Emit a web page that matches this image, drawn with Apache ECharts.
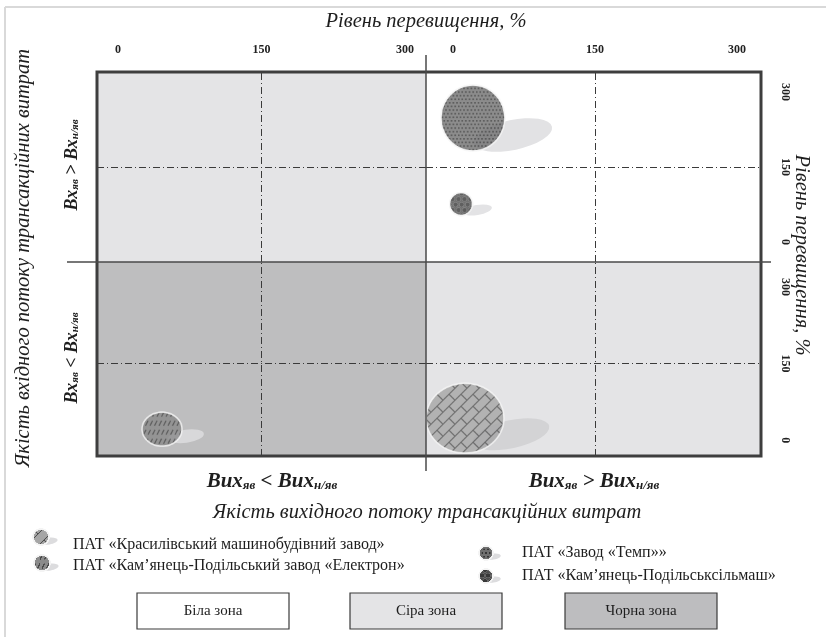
<!DOCTYPE html>
<html><head><meta charset="utf-8">
<script src="https://cdn.jsdelivr.net/npm/echarts@6/dist/echarts.min.js"></script>
<style>html,body{margin:0;padding:0;background:#fff}#c{width:826px;height:637px}</style>
</head><body><div id="c"></div>
<script>
// ---------- data ----------
const tickValues = [0, 150, 300];
const companies = [
  'ПАТ «Красилівський машинобудівний завод»',
  'ПАТ «Кам’янець-Подільський завод «Електрон»',
  'ПАТ «Завод «Темп»»',
  'ПАТ «Кам’янець-Подільськсільмаш»'
];
const outputLevel = [12.7, 46, 21, 8.5];     // Рівень перевищення (вихідний потік), %
const inputLevel  = [43, 21.5, 248, 76];      // Рівень перевищення (вхідний потік), %
const quadrantOf  = [3, 2, 1, 1];             // 0 TL, 1 TR, 2 BL, 3 BR
const bubbleW     = [80, 42, 66, 25];
const bubbleH     = [72, 36, 68, 25];
const zoneNames   = ['Біла зона', 'Сіра зона', 'Чорна зона'];
const topTitle    = 'Рівень перевищення, %';
const rightTitle  = 'Рівень перевищення, %';
const leftTitle   = 'Якість вхідного потоку трансакційних витрат';
const bottomTitle = 'Якість вихідного потоку трансакційних витрат';

// ---------- styles ----------
const FONT = "'Liberation Serif', 'Times New Roman', serif";
const patternKind = ['bricks', 'dashes', 'dots', 'circles'];
const shadowStyle = [
  {off: [46, 16], size: [78, 28], rot: 12, color: '#d3d3d5'},
  {off: [24, 7],  size: [36, 13], rot: 8,  color: '#d8d8da'},
  {off: [40, 17], size: [80, 30], rot: 12, color: '#e2e2e4'},
  {off: [16, 6],  size: [30, 10], rot: 10, color: '#e3e3e5'}
];

function paint(ctx, kind, w, h) {
  if (kind === 'bricks') {
    ctx.fillStyle = '#a6a6a6'; ctx.fillRect(0, 0, w, h);
    ctx.strokeStyle = '#4e4e4e'; ctx.lineWidth = 1.1;
    const S = 12;
    for (let c = -240; c < w + h + 240; c += S) {
      ctx.beginPath(); ctx.moveTo(-20, c + 20); ctx.lineTo(w + 20, c - w - 20); ctx.stroke();
      const row = Math.round(c / S);
      const off = (Math.abs(row) % 2) ? 12 : 0;
      for (let d = -240 + off; d < 240; d += 24) {
        const x1 = (c + d) / 2, y1 = (c - d) / 2;
        ctx.beginPath(); ctx.moveTo(x1, y1); ctx.lineTo(x1 + S / 2, y1 + S / 2); ctx.stroke();
      }
    }
  } else if (kind === 'dashes') {
    ctx.fillStyle = '#8a8a8a'; ctx.fillRect(0, 0, w, h);
    ctx.strokeStyle = '#474747'; ctx.lineWidth = 1.2;
    let r = 0;
    for (let y = 3; y < h + 6; y += 9, r++) {
      for (let x = (r % 2) * 2 - 2; x < w + 4; x += 4.5) {
        ctx.beginPath(); ctx.moveTo(x, y + 2.5); ctx.lineTo(x + 2.5, y - 2.5); ctx.stroke();
      }
    }
  } else if (kind === 'dots') {
    ctx.fillStyle = '#707070'; ctx.fillRect(0, 0, w, h);
    ctx.fillStyle = '#363636';
    let r = 0;
    for (let y = 0; y < h + 4; y += 3.6, r++) {
      for (let x = (r % 2) * 1.8; x < w + 4; x += 3.6) ctx.fillRect(x, y, 1.7, 1.7);
    }
  } else {
    ctx.fillStyle = '#4e4e4e'; ctx.fillRect(0, 0, w, h);
    let r = 0;
    for (let y = 2; y < h + 6; y += 5.5, r++) {
      for (let x = (r % 2) * 3 + 1; x < w + 6; x += 6) {
        ctx.beginPath(); ctx.arc(x, y, 2.4, 0, Math.PI * 2);
        ctx.fillStyle = '#383838'; ctx.fill();
        ctx.strokeStyle = '#6a6a6a'; ctx.lineWidth = 0.7; ctx.stroke();
      }
    }
  }
}
function bubbleCanvas(kind, w, h) {
  const k = 3;
  const c = document.createElement('canvas');
  c.width = Math.ceil(w * k); c.height = Math.ceil(h * k);
  const ctx = c.getContext('2d'); ctx.scale(k, k);
  ctx.save(); ctx.beginPath(); ctx.ellipse(w / 2, h / 2, w / 2 - 1, h / 2 - 1, 0, 0, Math.PI * 2); ctx.clip();
  paint(ctx, kind, w, h); ctx.restore();
  ctx.beginPath(); ctx.ellipse(w / 2, h / 2, w / 2 - 1, h / 2 - 1, 0, 0, Math.PI * 2);
  ctx.strokeStyle = '#f4f4f4'; ctx.lineWidth = 1.6; ctx.stroke();
  return c;
}

// ---------- grids / axes ----------
const gridBox = [
  {left: 97,  top: 72,  width: 329, height: 190, bg: '#e4e4e6'},
  {left: 426, top: 72,  width: 335, height: 190, bg: '#ffffff'},
  {left: 97,  top: 262, width: 329, height: 194, bg: '#bebebf'},
  {left: 426, top: 262, width: 335, height: 194, bg: '#e4e4e6'}
];
const xRange = [[-22, 322], [-28.5, 325.4], [-22, 322], [-28.5, 325.4]];
const yRange = [[-40, 340], [-40, 340], [-31, 349], [-31, 349]];

const grid = gridBox.map(g => ({left: g.left, top: g.top, width: g.width, height: g.height,
  show: true, backgroundColor: g.bg, borderWidth: 0}));
const labelStyle = {fontFamily: FONT, fontWeight: 'bold', fontSize: 12, color: '#222'};
const xAxis = xRange.map((r, i) => ({
  type: 'value', gridIndex: i, min: r[0], max: r[1], position: 'top', show: i < 2,
  axisLine: {show: false}, axisTick: {show: false}, splitLine: {show: false},
  axisLabel: Object.assign({customValues: tickValues, margin: 16}, labelStyle)
}));
const yAxis = yRange.map((r, i) => ({
  type: 'value', gridIndex: i, min: r[0], max: r[1], position: 'right', show: i % 2 === 1,
  axisLine: {show: false}, axisTick: {show: false}, splitLine: {show: false},
  axisLabel: Object.assign({customValues: tickValues, margin: 18, rotate: -90}, labelStyle)
}));

// ---------- series ----------
const series = [];
for (let g = 0; g < 4; g++) {
  series.push({type: 'scatter', xAxisIndex: g, yAxisIndex: g, data: [], silent: true, z: 1,
    markLine: {silent: true, symbol: ['none', 'none'], label: {show: false}, animation: false,
      lineStyle: {color: '#3a3a3a', width: 1, type: [7, 3, 1, 3]},
      emphasis: {disabled: true},
      data: [{xAxis: 150}, {yAxis: 150}]}});
}
companies.forEach((name, i) => {
  const q = quadrantOf[i], sh = shadowStyle[i];
  series.push({type: 'scatter', name: name + ' shadow', xAxisIndex: q, yAxisIndex: q, clip: false, silent: true, z: 2,
    symbol: 'circle', symbolSize: sh.size, symbolRotate: sh.rot, symbolOffset: sh.off,
    itemStyle: {color: sh.color, opacity: 1},
    data: [[outputLevel[i], inputLevel[i]]]});
  const img = bubbleCanvas(patternKind[i], bubbleW[i], bubbleH[i]).toDataURL();
  series.push({type: 'scatter', name: name, xAxisIndex: q, yAxisIndex: q, clip: false, silent: true, z: 3,
    symbol: 'image://' + img, symbolSize: [bubbleW[i], bubbleH[i]],
    data: [[outputLevel[i], inputLevel[i]]]});
});

// ---------- graphic (frame, titles, legend) ----------
function txt(x, y, text, opt) {
  return Object.assign({type: 'text', x: x, y: y, z: 80, rotation: opt.rotation || 0,
    style: Object.assign({text: text, x: 0, y: 0, align: 'center', verticalAlign: 'middle',
      textAlign: 'center', textVerticalAlign: 'middle', fill: '#1e1e1e', fontFamily: FONT,
      fontSize: opt.size || 16, fontStyle: opt.italic ? 'italic' : 'normal',
      fontWeight: opt.bold ? 'bold' : 'normal'}, opt.style || {})});
}
function richDef(big, small) {
  return {
    b: {fontFamily: FONT, fontSize: big, fontWeight: 'bold', fontStyle: 'italic', fill: '#1e1e1e', lineHeight: big + 4, verticalAlign: 'bottom'},
    s: {fontFamily: FONT, fontSize: small, fontWeight: 'bold', fontStyle: 'italic', fill: '#1e1e1e', lineHeight: small + 3, verticalAlign: 'bottom'}
  };
}
function subLabel(x, y, base, op, rotation, big, small) {
  return {type: 'text', x: x, y: y, z: 80, rotation: rotation || 0,
    style: {text: '{b|' + base + '}{s|яв}{b| ' + op + ' ' + base + '}{s|н/яв}', x: 0, y: 0,
      align: 'center', verticalAlign: 'middle', rich: richDef(big, small)}};
}
const line = (x1, y1, x2, y2, color, w) => ({type: 'line', z: 60, silent: true,
  shape: {x1, y1, x2, y2}, style: {stroke: color, lineWidth: w}});

const graphic = [
  line(5, 7, 826, 7, '#d9d9d9', 2),
  line(5, 7, 5, 637, '#d9d9d9', 2),
  {type: 'rect', z: 60, silent: true, shape: {x: 97, y: 72, width: 664, height: 384},
    style: {fill: 'none', stroke: '#3e3e3e', lineWidth: 3}},
  line(426, 55, 426, 471, '#4a4a4a', 1.5),
  line(67, 262, 771, 262, '#4a4a4a', 1.5),
  txt(426, 22, topTitle, {size: 20.5, italic: true}),
  txt(24, 258, leftTitle, {size: 20.5, italic: true, rotation: Math.PI / 2}),
  txt(801, 255, rightTitle, {size: 20.5, italic: true, rotation: -Math.PI / 2}),
  txt(427, 513, bottomTitle, {size: 20.5, italic: true}),
  subLabel(70, 165, 'Вх', '>', Math.PI / 2, 18, 11),
  subLabel(70, 358, 'Вх', '<', Math.PI / 2, 18, 11),
  subLabel(272, 480, 'Вих', '<', 0, 21, 13),
  subLabel(594, 480, 'Вих', '>', 0, 21, 13)
];
// legend
const legendPos = [
  {ix: 41, iy: 537, r: 9, tx: 73, ty: 545},
  {ix: 42, iy: 563, r: 9, tx: 73, ty: 566},
  {ix: 486, iy: 553, r: 8, tx: 522, ty: 553},
  {ix: 486, iy: 576, r: 8, tx: 522, ty: 576}
];
companies.forEach((name, i) => {
  const p = legendPos[i];
  graphic.push({type: 'ellipse', z: 55, silent: true, x: p.ix + p.r * 0.9, y: p.iy + p.r * 0.45, rotation: 0.15,
    shape: {cx: 0, cy: 0, rx: p.r * 0.95, ry: p.r * 0.38}, style: {fill: '#dcdcde'}});
  graphic.push({type: 'image', z: 56, silent: true,
    style: {image: bubbleCanvas(patternKind[i], p.r * 2, p.r * 2), x: p.ix - p.r, y: p.iy - p.r, width: p.r * 2, height: p.r * 2}});
  graphic.push(txt(p.tx, p.ty, name, {size: 16, style: {align: 'left', textAlign: 'left'}}));
});
const zoneFill = ['#ffffff', '#e4e4e6', '#bdbdbf'];
const zoneX = [137, 350, 565];
zoneNames.forEach((z, i) => {
  graphic.push({type: 'rect', z: 55, silent: true, shape: {x: zoneX[i], y: 593, width: 152, height: 36},
    style: {fill: zoneFill[i], stroke: '#3a3a3a', lineWidth: 1.2}});
  graphic.push(txt(zoneX[i] + 76, 611, z, {size: 15}));
});

const chart = echarts.init(document.getElementById('c'), null, {renderer: 'canvas'});
chart.setOption({animation: false, grid, xAxis, yAxis, series, graphic});
</script></body></html>
